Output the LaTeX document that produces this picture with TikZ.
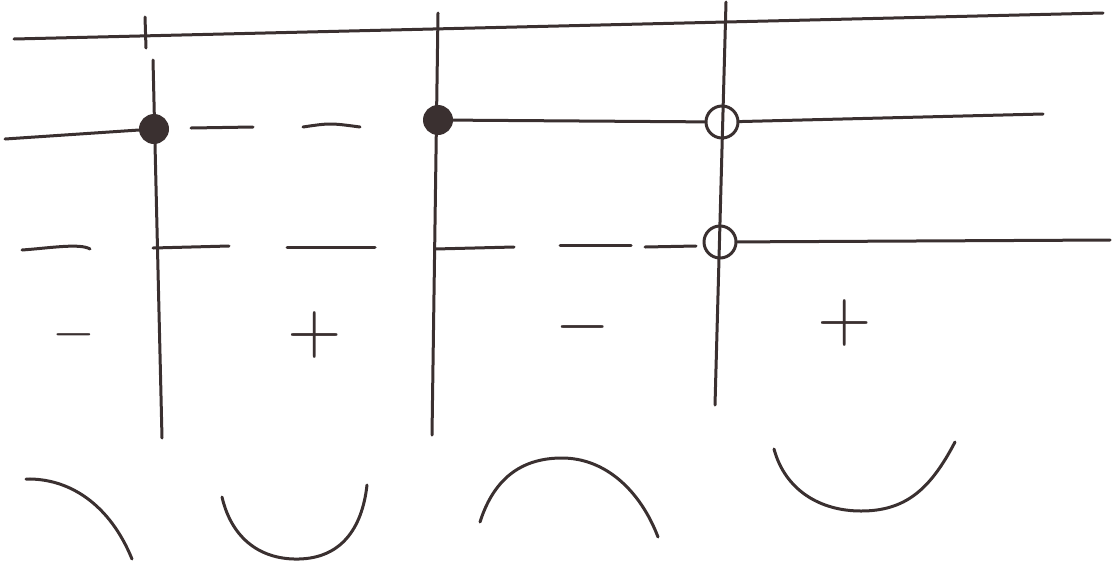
\documentclass[tikz,border=0pt]{standalone}
\usepackage{xcolor}
\usepackage{graphicx}
\usepackage{tikz}
\definecolor{ink}{RGB}{58,48,48}

\begin{document}
\begin{tikzpicture}[x=1pt, y=-1pt, pen/.style={draw=ink, line width=3pt, line cap=round}, fdot/.style={circle, fill=ink, draw=ink, line width=2pt, minimum size=28pt, inner sep=0pt}, odot/.style={circle, draw=ink, line width=3pt, minimum size=32pt, inner sep=0pt}, sign/.style={text=ink, inner sep=0pt}]
\useasboundingbox (0,0) rectangle (1115,563);
\coordinate (axl) at (14,39);
\coordinate (axr) at (1103,13);
\coordinate (tkt) at (145,17);
\coordinate (tkb) at (146,48);
\coordinate (v1t) at (153,60);
\coordinate (v1b) at (162,438);
\coordinate (v2t) at (438,13);
\coordinate (v2b) at (432,435);
\coordinate (v3t) at (726,2);
\coordinate (v3b) at (715,405);
\coordinate (r1l) at (5,139);
\coordinate (r1r) at (1043,114);
\coordinate (r2r) at (1110,240);
\draw[pen] (axl) -- (axr);
\draw[pen] (tkt) -- (tkb);
\draw[pen] (v1t) -- (v1b);
\draw[pen] (v2t) -- (v2b);
\draw[pen] (v3t) -- (v3b);
\node[fdot] (d1) at (154,129) {};
\node[fdot] (d2) at (438,120) {};
\node[odot] (o1) at (722,122) {};
\node[odot] (o2) at (720,242) {};
\draw[pen] (r1l) -- (d1);
\draw[pen] (d2) -- (o1);
\draw[pen] (o1) -- (r1r);
\draw[pen] (o2) -- (r2r);
\draw[pen] (191,128) -- (253,127);
\draw[pen] (303,127) .. controls (330,123) .. (360,127);
\draw[pen] (22,250) .. controls (50,248) and (80,243) .. (90,249);
\draw[pen] (153,248) -- (229,246);
\draw[pen] (287,247) -- (375,247);
\draw[pen] (435,249) -- (514,247);
\draw[pen] (560,245) -- (631,245);
\draw[pen] (645,247) -- (696,246);
\node[sign] (s1) at (74,335) {\scalebox{5.5}{$-$}};
\node[sign] (s2) at (315,335) {\scalebox{7}{$+$}};
\node[sign] (s3) at (583,327) {\scalebox{7}{$-$}};
\node[sign] (s4) at (845,323) {\scalebox{7}{$+$}};
\draw[pen] (26,479) .. controls (70,478) and (110,505) .. (132,559);
\draw[pen] (222,497) .. controls (232,540) and (262,560) .. (299,559) .. controls (340,558) and (362,530) .. (367,485);
\draw[pen] (480,522) .. controls (495,475) and (525,458) .. (562,458) .. controls (605,458) and (640,490) .. (658,537);
\draw[pen] (774,449) .. controls (785,490) and (820,511) .. (861,511) .. controls (905,511) and (930,490) .. (955,442);
\end{tikzpicture}
\end{document}
